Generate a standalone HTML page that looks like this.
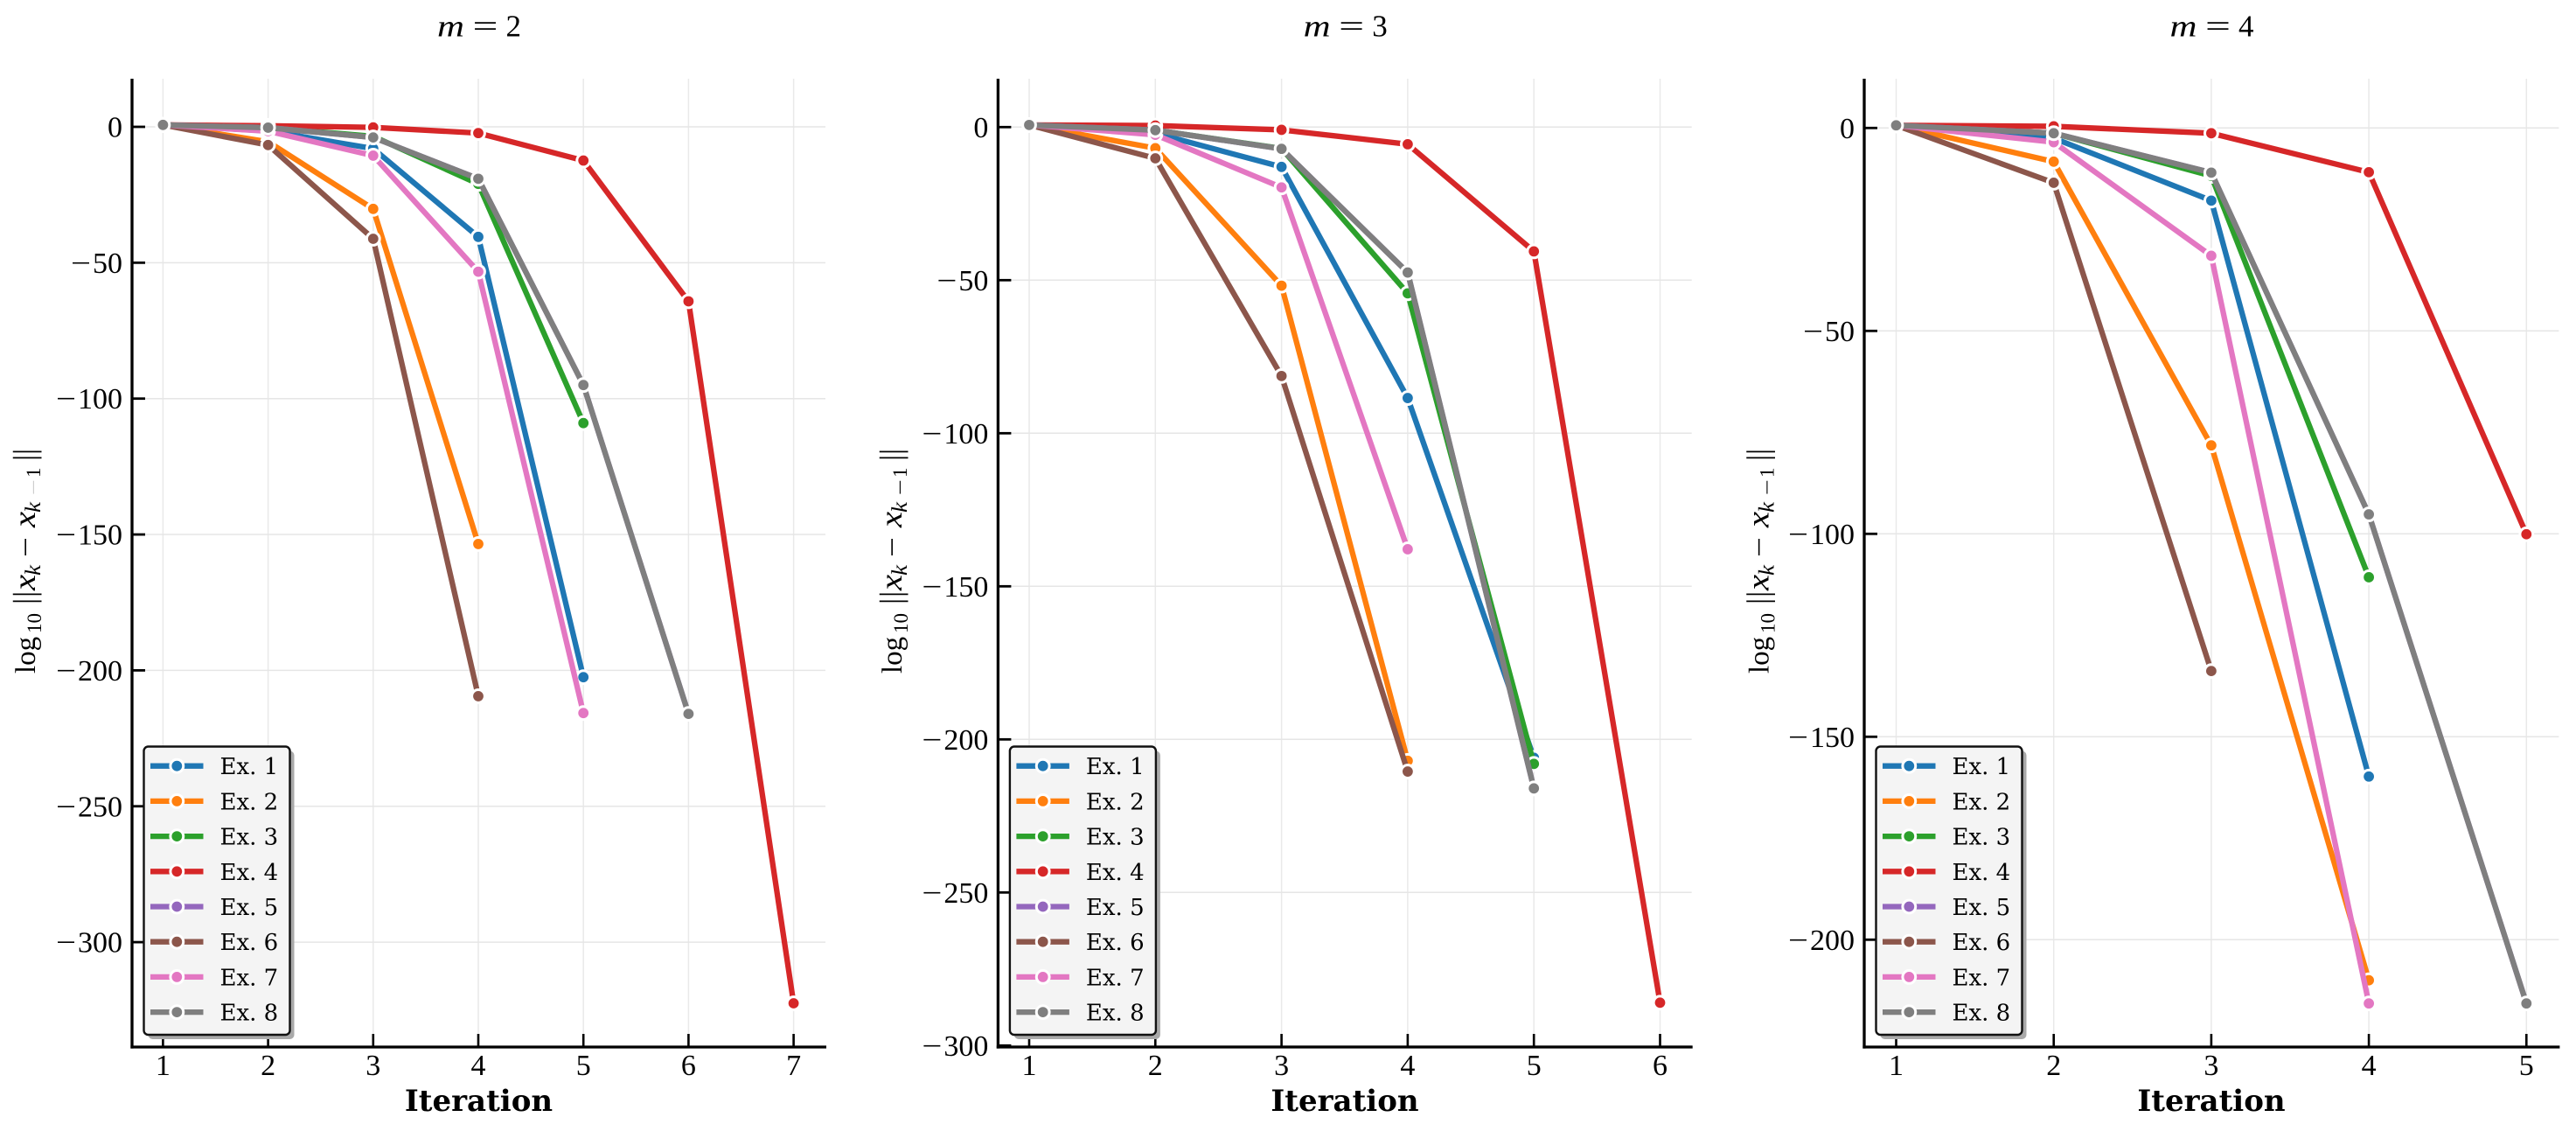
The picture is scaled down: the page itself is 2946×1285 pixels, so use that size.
<!DOCTYPE html>
<html lang="en">
<head>
<meta charset="utf-8">
<title>Convergence by iteration for m = 2, 3, 4</title>
<style>
  html, body { margin: 0; padding: 0; background: #fff; }
  svg { display: block; }
  .tick { font-family: "Liberation Serif", serif; font-size: 34px; fill: #000; }
  .title { font-family: "Liberation Serif", serif; font-size: 35px; fill: #000; }
  .ylab { font-family: "Liberation Serif", "DejaVu Serif", serif; font-size: 33px; fill: #000; }
  .xlab { font-family: "DejaVu Serif", serif; font-size: 34px; font-weight: bold; fill: #000; }
  .leg { font-family: "DejaVu Serif", serif; font-size: 26px; fill: #000; }
</style>
</head>
<body>
<svg id="figure" xmlns="http://www.w3.org/2000/svg" width="2946" height="1285" viewBox="0 0 2946 1285">
  <rect x="0" y="0" width="2946" height="1285" fill="#fff"/>
  <g id="panel-0"></g>
  <g id="panel-1"></g>
  <g id="panel-2"></g>

  <text class="title" y="41.7"><tspan x="500" font-style="italic" textLength="31" lengthAdjust="spacingAndGlyphs">m</tspan><tspan x="540.5" textLength="29" lengthAdjust="spacingAndGlyphs">=</tspan><tspan x="578.5">2</tspan></text>
  <text class="title" y="41.7"><tspan x="1490.7" font-style="italic" textLength="31" lengthAdjust="spacingAndGlyphs">m</tspan><tspan x="1531.2" textLength="29" lengthAdjust="spacingAndGlyphs">=</tspan><tspan x="1569.2">3</tspan></text>
  <text class="title" y="41.7"><tspan x="2481.5" font-style="italic" textLength="31" lengthAdjust="spacingAndGlyphs">m</tspan><tspan x="2522" textLength="29" lengthAdjust="spacingAndGlyphs">=</tspan><tspan x="2560">4</tspan></text>

  <text class="xlab" x="547.5" y="1270" text-anchor="middle">Iteration</text>
  <text class="xlab" x="1538" y="1270" text-anchor="middle">Iteration</text>
  <text class="xlab" x="2529" y="1270" text-anchor="middle">Iteration</text>

  <text class="ylab" transform="translate(40,770) rotate(-90)"><tspan x="0">log</tspan><tspan x="46" dy="7" font-size="23">10</tspan><tspan x="79" dy="-7" font-size="36">|</tspan><tspan x="87" font-size="36">|</tspan><tspan x="95" font-style="italic" font-size="36" textLength="18" lengthAdjust="spacingAndGlyphs">x</tspan><tspan x="112" dy="6" font-size="25" font-style="italic" textLength="12" lengthAdjust="spacingAndGlyphs">k</tspan><tspan x="133" dy="-6" textLength="23" lengthAdjust="spacingAndGlyphs">−</tspan><tspan x="167" font-style="italic" font-size="36" textLength="18" lengthAdjust="spacingAndGlyphs">x</tspan><tspan x="184" dy="6" font-size="25" font-style="italic" textLength="12" lengthAdjust="spacingAndGlyphs">k</tspan><tspan x="204" font-size="23" fill="#cccccc" textLength="18" lengthAdjust="spacingAndGlyphs">−</tspan><tspan x="224" font-size="23">1</tspan><tspan x="243" dy="-6" font-size="36">|</tspan><tspan x="250" font-size="36">|</tspan></text>
  <text class="ylab" transform="translate(1031,770) rotate(-90)"><tspan x="0">log</tspan><tspan x="46" dy="7" font-size="23">10</tspan><tspan x="79" dy="-7" font-size="36">|</tspan><tspan x="87" font-size="36">|</tspan><tspan x="95" font-style="italic" font-size="36" textLength="18" lengthAdjust="spacingAndGlyphs">x</tspan><tspan x="112" dy="6" font-size="25" font-style="italic" textLength="12" lengthAdjust="spacingAndGlyphs">k</tspan><tspan x="133" dy="-6" textLength="23" lengthAdjust="spacingAndGlyphs">−</tspan><tspan x="167" font-style="italic" font-size="36" textLength="18" lengthAdjust="spacingAndGlyphs">x</tspan><tspan x="184" dy="6" font-size="25" font-style="italic" textLength="12" lengthAdjust="spacingAndGlyphs">k</tspan><tspan x="204" font-size="23" textLength="18" lengthAdjust="spacingAndGlyphs">−</tspan><tspan x="224" font-size="23">1</tspan><tspan x="243" dy="-6" font-size="36">|</tspan><tspan x="250" font-size="36">|</tspan></text>
  <text class="ylab" transform="translate(2022.3,770) rotate(-90)"><tspan x="0">log</tspan><tspan x="46" dy="7" font-size="23">10</tspan><tspan x="79" dy="-7" font-size="36">|</tspan><tspan x="87" font-size="36">|</tspan><tspan x="95" font-style="italic" font-size="36" textLength="18" lengthAdjust="spacingAndGlyphs">x</tspan><tspan x="112" dy="6" font-size="25" font-style="italic" textLength="12" lengthAdjust="spacingAndGlyphs">k</tspan><tspan x="133" dy="-6" textLength="23" lengthAdjust="spacingAndGlyphs">−</tspan><tspan x="167" font-style="italic" font-size="36" textLength="18" lengthAdjust="spacingAndGlyphs">x</tspan><tspan x="184" dy="6" font-size="25" font-style="italic" textLength="12" lengthAdjust="spacingAndGlyphs">k</tspan><tspan x="204" font-size="23" textLength="18" lengthAdjust="spacingAndGlyphs">−</tspan><tspan x="224" font-size="23">1</tspan><tspan x="243" dy="-6" font-size="36">|</tspan><tspan x="250" font-size="36">|</tspan></text>
</svg>

<script>
// ---- Data: series names ----
const seriesLabels = ['Ex. 1', 'Ex. 2', 'Ex. 3', 'Ex. 4', 'Ex. 5', 'Ex. 6', 'Ex. 7', 'Ex. 8'];

// ---- Data: m = 2 (log10 of the step norm, one value per iteration starting at 1) ----
const m2Ex1 = [0.7, -1.5, -8, -40.5, -202.5];
const m2Ex2 = [0.7, -5.5, -30.2, -153.5];
const m2Ex3 = [0.7, -0.3, -3.5, -21, -109];
const m2Ex4 = [0.7, 0.4, -0.2, -2.3, -12.4, -64.2, -322.5];
const m2Ex5 = [0.7, -0.3, -3.9, -19.1, -95, -216];
const m2Ex6 = [0.7, -6.7, -41.2, -209.5];
const m2Ex7 = [0.7, -1.6, -10.6, -53.3, -215.7];
const m2Ex8 = [0.7, -0.3, -3.9, -19.1, -95, -216];
const m2XTicks = [1, 2, 3, 4, 5, 6, 7];
const m2YTicks = [0, -50, -100, -150, -200, -250, -300];

// ---- Data: m = 3 ----
const m3Ex1 = [0.7, -2, -13, -88.5, -206];
const m3Ex2 = [0.7, -6.9, -51.8, -207];
const m3Ex3 = [0.7, -1, -7, -54.3, -208];
const m3Ex4 = [0.7, 0.5, -0.9, -5.6, -40.6, -286];
const m3Ex5 = [0.7, -1, -7.1, -47.5, -216];
const m3Ex6 = [0.7, -10.2, -81.3, -210.5];
const m3Ex7 = [0.7, -2.5, -19.7, -137.9];
const m3Ex8 = [0.7, -1, -7.1, -47.5, -216];
const m3XTicks = [1, 2, 3, 4, 5, 6];
const m3YTicks = [0, -50, -100, -150, -200, -250, -300];

// ---- Data: m = 4 ----
const m4Ex1 = [0.65, -2.5, -17.9, -159.8];
const m4Ex2 = [0.65, -8.3, -78.2, -210];
const m4Ex3 = [0.65, -1.3, -11.8, -110.7];
const m4Ex4 = [0.65, 0.4, -1.3, -10.9, -100.1];
const m4Ex5 = [0.65, -1.3, -11, -95.2, -215.7];
const m4Ex6 = [0.65, -13.5, -133.8];
const m4Ex7 = [0.65, -3.5, -31.5, -215.7];
const m4Ex8 = [0.65, -1.3, -11, -95.2, -215.7];
const m4XTicks = [1, 2, 3, 4, 5];
const m4YTicks = [0, -50, -100, -150, -200];

const m2Series = [m2Ex1, m2Ex2, m2Ex3, m2Ex4, m2Ex5, m2Ex6, m2Ex7, m2Ex8];
const m3Series = [m3Ex1, m3Ex2, m3Ex3, m3Ex4, m3Ex5, m3Ex6, m3Ex7, m3Ex8];
const m4Series = [m4Ex1, m4Ex2, m4Ex3, m4Ex4, m4Ex5, m4Ex6, m4Ex7, m4Ex8];

// ---- Styling ----
const palette = ['#1f77b4', '#ff7f0e', '#2ca02c', '#d62728', '#9467bd', '#8c564b', '#e377c2', '#7f7f7f'];

const SVG_NS = 'http://www.w3.org/2000/svg';
const TOP = 90, BOTTOM = 1197;

function make(parent, tag, attrs) {
  const node = document.createElementNS(SVG_NS, tag);
  for (const k in attrs) node.setAttribute(k, attrs[k]);
  parent.appendChild(node);
  return node;
}

function drawPanel(id, series, xTicks, yTicks, axis) {
  const g = document.getElementById(id);
  const xs = v => axis.x1 + (v - 1) * axis.xStep;
  const ys = v => axis.y0 - v * axis.yUnit;

  // grid
  xTicks.forEach(t => {
    const line = make(g, 'line', { x1: xs(t), x2: xs(t), y1: TOP, y2: BOTTOM, stroke: '#e9e9e9', 'stroke-width': 1.5 });
    
    
  });
  yTicks.forEach(t => {
    const line = make(g, 'line', { x1: axis.left, x2: axis.right, y1: ys(t), y2: ys(t), stroke: '#e6e6e6', 'stroke-width': 1.5 });
    
    
  });

  // spines
  const spineY = make(g, 'line', { x1: axis.left, x2: axis.left, y1: TOP, y2: BOTTOM + 1.6, stroke: '#000', 'stroke-width': 3.3 });
  
  
  const spineX = make(g, 'line', { x1: axis.left - 1.6, x2: axis.right + 1, y1: BOTTOM, y2: BOTTOM, stroke: '#000', 'stroke-width': 3.3 });
  
  

  // ticks and labels
  xTicks.forEach(t => {
    const tick = make(g, 'line', { x1: xs(t), x2: xs(t), y1: BOTTOM - 15, y2: BOTTOM, stroke: '#000', 'stroke-width': 2.6 });
    
    
    const label = make(g, 'text', { class: 'tick', x: xs(t), y: 1229, 'text-anchor': 'middle' });
    
    
    label.textContent = String(t);
  });
  yTicks.forEach(t => {
    const tick = make(g, 'line', { x1: axis.left, x2: axis.left + 15, y1: ys(t), y2: ys(t), stroke: '#000', 'stroke-width': 2.8 });
    
    
    const label = make(g, 'text', { class: 'tick', x: axis.left - 11, y: ys(t) + 11.5, 'text-anchor': 'end' });
    
    
    if (t < 0) {
      const minus = make(label, 'tspan', { textLength: 23, lengthAdjust: 'spacingAndGlyphs' });
      minus.textContent = '\u2212';
      const digits = make(label, 'tspan', { dx: 2 });
      digits.textContent = String(-t);
    } else {
      label.textContent = String(t);
    }
  });

  // series: each line is drawn with its markers, later series on top
  series.forEach((vals, i) => {
    const sg = make(g, 'g', {});
    
    
    const pts = vals.map((v, k) => xs(k + 1).toFixed(2) + ',' + ys(v).toFixed(2)).join(' ');
    const path = make(sg, 'polyline', { points: pts, fill: 'none', stroke: palette[i], 'stroke-width': 6.3, 'stroke-linejoin': 'round', 'stroke-linecap': 'butt' });
    
    
    vals.forEach((v, k) => {
      const dot = make(sg, 'circle', { cx: xs(k + 1), cy: ys(v), r: 7.4, fill: palette[i], stroke: '#fff', 'stroke-width': 3 });
      
      
    });
  });

  // legend
  const lg = make(g, 'g', {});
  
  
  const lx = axis.left + 13.5, ly = 853.5, lw = 167, lh = 329.5;
  const shadow = make(lg, 'rect', { x: lx + 5, y: ly + 5, width: lw, height: lh, rx: 5, fill: '#a9a9a9' });
  
  
  const frame = make(lg, 'rect', { x: lx, y: ly, width: lw, height: lh, rx: 5, fill: '#f4f4f4', stroke: '#111', 'stroke-width': 2.4 });
  
  
  seriesLabels.forEach((name, i) => {
    const cy = 875.7 + i * 40.2;
    const entry = make(lg, 'g', {});
    
    
    const h = make(entry, 'line', { x1: lx + 7.5, x2: lx + 68, y1: cy, y2: cy, stroke: palette[i], 'stroke-width': 6.3 });
    
    
    const m = make(entry, 'circle', { cx: lx + 37.8, cy: cy, r: 7.4, fill: palette[i], stroke: '#fff', 'stroke-width': 3 });
    
    
    const t = make(entry, 'text', { class: 'leg', x: lx + 87, y: cy + 9.5 });
    
    
    t.textContent = name;
  });
}

drawPanel('panel-0', m2Series, m2XTicks, m2YTicks, { left: 151, right: 944, x1: 186.4, xStep: 120.2, y0: 145, yUnit: 3.107 });
drawPanel('panel-1', m3Series, m3XTicks, m3YTicks, { left: 1141.4, right: 1934.7, x1: 1177, xStep: 144.3, y0: 145.3, yUnit: 3.5 });
drawPanel('panel-2', m4Series, m4XTicks, m4YTicks, { left: 2132, right: 2926.4, x1: 2168.5, xStep: 180.2, y0: 146.3, yUnit: 4.64 });
</script>
</body>
</html>
